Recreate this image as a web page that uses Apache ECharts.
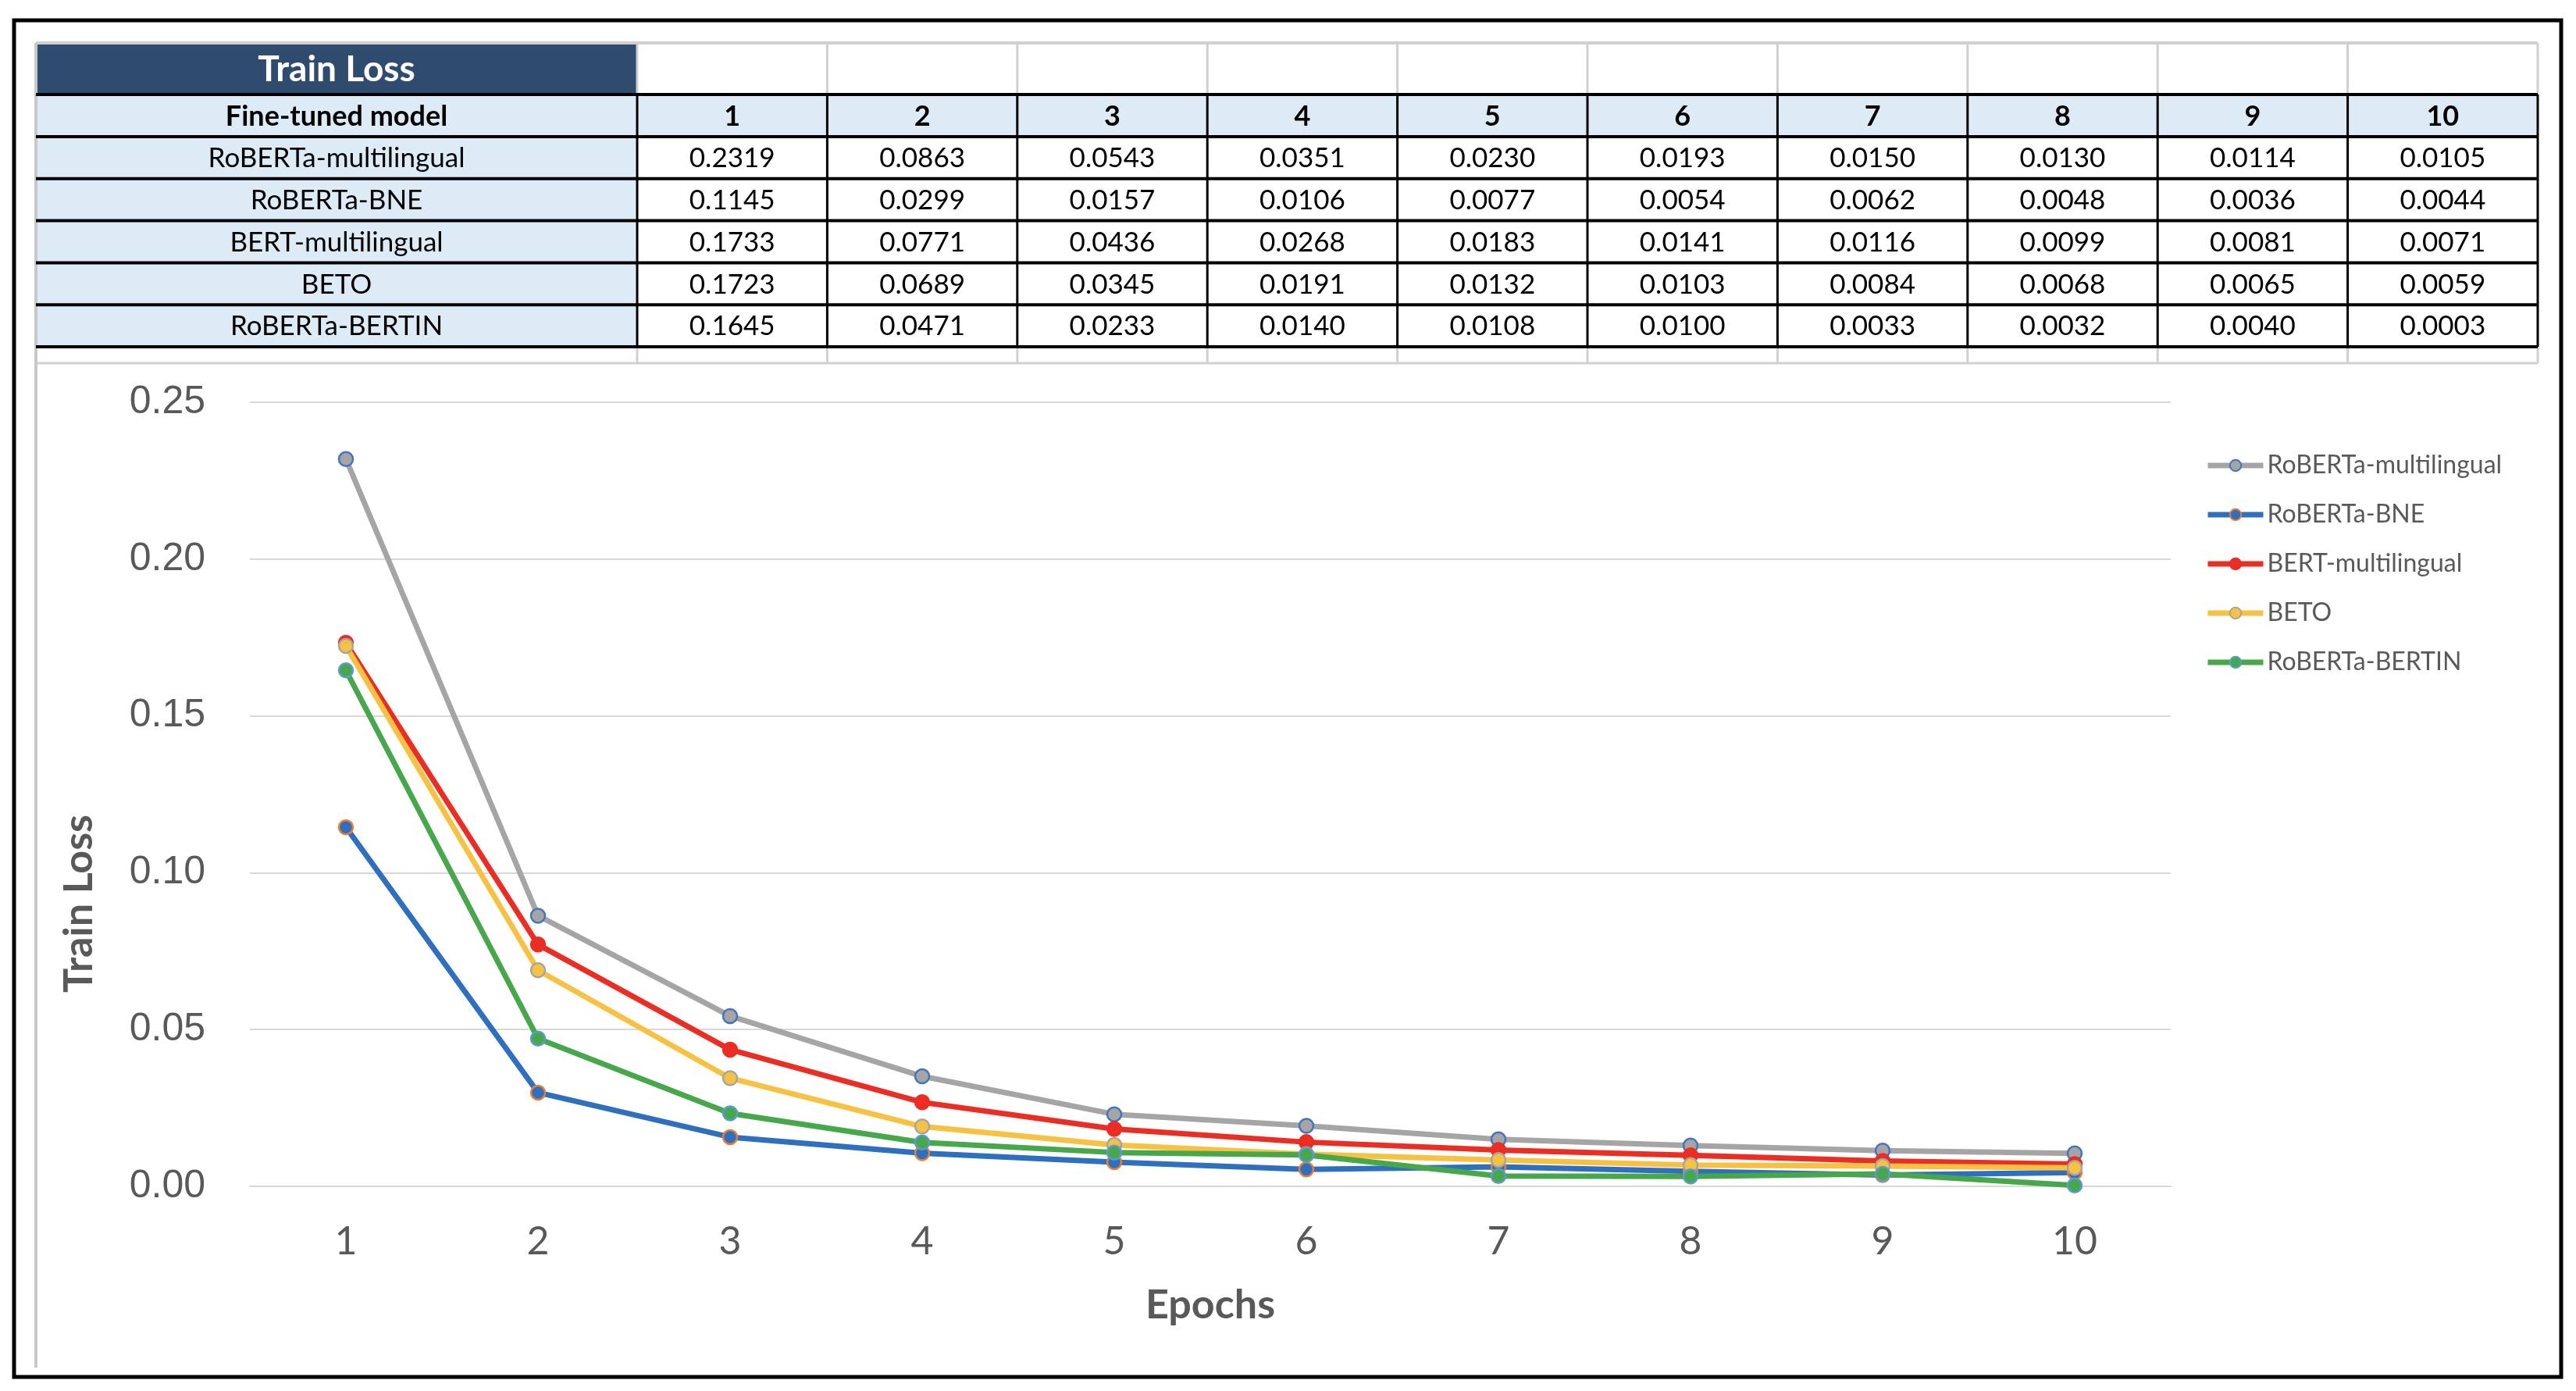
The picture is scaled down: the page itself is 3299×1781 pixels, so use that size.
<!DOCTYPE html>
<html>
<head>
<meta charset="utf-8">
<script src="https://cdn.jsdelivr.net/npm/echarts@6/dist/echarts.min.js"></script>
<style>
html,body{margin:0;padding:0;background:#fff;}
#chart{width:3299px;height:1781px;}
</style>
</head>
<body>
<div id="chart"></div>
<script>
// ---- data ----
const epochs = ['1','2','3','4','5','6','7','8','9','10'];
const modelNames = ['RoBERTa-multilingual','RoBERTa-BNE','BERT-multilingual','BETO','RoBERTa-BERTIN'];
const robertaMultilingual = [0.2319,0.0863,0.0543,0.0351,0.0230,0.0193,0.0150,0.0130,0.0114,0.0105];
const robertaBNE          = [0.1145,0.0299,0.0157,0.0106,0.0077,0.0054,0.0062,0.0048,0.0036,0.0044];
const bertMultilingual    = [0.1733,0.0771,0.0436,0.0268,0.0183,0.0141,0.0116,0.0099,0.0081,0.0071];
const beto                = [0.1723,0.0689,0.0345,0.0191,0.0132,0.0103,0.0084,0.0068,0.0065,0.0059];
const robertaBertin       = [0.1645,0.0471,0.0233,0.0140,0.0108,0.0100,0.0033,0.0032,0.0040,0.0003];
const seriesValues = [robertaMultilingual, robertaBNE, bertMultilingual, beto, robertaBertin];
const tableTitle = 'Train Loss';
const headerLabel = 'Fine-tuned model';
const yTickLabels = ['0.00','0.05','0.10','0.15','0.20','0.25'];

// ---- styles ----
const lineColors   = ['#a5a5a5','#2e6fc0','#ec2d24','#f7c242','#47a84b'];
const markerBorder = ['#4472c4','#ed7d31','#ec2d24','#a5a5a5','#5b9bd5'];
const FONT = 'Lato';

// ---- table via graphic ----
const g = [];
const colX = [46, 816];
const colW = (3250 - 816) / 10;
for (let i = 1; i <= 10; i++) colX.push(816 + colW * i);
const rowY = [55, 121, 175];
const rowH = (444 - 175) / 5;
for (let i = 1; i <= 5; i++) rowY.push(175 + rowH * i);
rowY.push(465);
const NAVY = '#2f4b6e', LB = '#ddebf7', GRAY = '#d0d0d0';

function rect(x, y, w, h, fill) {
  g.push({type:'rect', shape:{x, y, width:w, height:h}, style:{fill}, silent:true});
}
function line(x1, y1, x2, y2, color, w) {
  g.push({type:'line', shape:{x1, y1, x2, y2}, style:{stroke:color, lineWidth:w}, silent:true, z:10});
}
function text(t, cx, cy, size, weight, color) {
  g.push({type:'text', x:cx, y:cy, style:{text:t, fontFamily:FONT, fontSize:size, fontWeight:weight,
    fill:color, align:'center', verticalAlign:'middle'}, silent:true, z:20});
}
// fills
for (let r = 0; r < 8; r++) {
  for (let c = 0; c < 11; c++) {
    let fill = '#ffffff';
    if (r === 0 && c === 0) fill = NAVY;
    else if (r === 1) fill = LB;
    else if (r >= 2 && r <= 6 && c === 0) fill = LB;
    rect(colX[c], rowY[r], colX[c+1] - colX[c], rowY[r+1] - rowY[r], fill);
  }
}
// gray borders (title row + blank row + outer left/top)
line(colX[0], rowY[0], colX[11], rowY[0], GRAY, 4);
line(colX[0], rowY[8], colX[11], rowY[8], GRAY, 3);
for (let c = 0; c < 12; c++) {
  line(colX[c], rowY[0], colX[c], rowY[1], GRAY, 3);
  line(colX[c], rowY[7], colX[c], rowY[8], GRAY, 3);
}
// left gray chart border
line(46, rowY[0], 46, 1751, '#c8c8c8', 4);
// black grid in rows 1..6
for (let r = 1; r <= 7; r++) line(colX[0], rowY[r], colX[11], rowY[r], '#000', 4);
for (let c = 1; c < 12; c++) line(colX[c], rowY[1], colX[c], rowY[7], '#000', 3);
// texts
const cxs = [];
for (let c = 0; c < 11; c++) cxs.push((colX[c] + colX[c+1]) / 2);
const cys = [];
for (let r = 0; r < 8; r++) cys.push((rowY[r] + rowY[r+1]) / 2 + 1);
text(tableTitle, cxs[0], cys[0], 46, 'bold', '#ffffff');
text(headerLabel, cxs[0], cys[1], 36, 'bold', '#000');
epochs.forEach((e, i) => text(e, cxs[i+1], cys[1], 36, 'bold', '#000'));
modelNames.forEach((m, r) => {
  text(m, cxs[0], cys[r+2], 35, 'normal', '#000');
  seriesValues[r].forEach((v, i) => text(v.toFixed(4), cxs[i+1], cys[r+2], 35, 'normal', '#000'));
});
// outer black frame
g.push({type:'rect', shape:{x:18, y:26, width:3262, height:1737}, style:{fill:null, stroke:'#000', lineWidth:5}, silent:true, z:30});

// ---- chart ----
const chart = echarts.init(document.getElementById('chart'), null, {renderer:'canvas'});
const option = {
  animation: false,
  backgroundColor: '#ffffff',
  graphic: g,
  grid: {left: 320, right: 519, top: 515, bottom: 262},
  legend: {
    orient: 'vertical', left: 2819, top: 575,
    itemWidth: 71, itemHeight: 18, itemGap: 31,
    lineStyle: {width: 7},
    textStyle: {fontFamily: FONT, fontSize: 32, color: '#595959', lineHeight: 32},
    data: modelNames
  },
  xAxis: {
    type: 'category', data: epochs, boundaryGap: true,
    name: 'Epochs', nameLocation: 'middle', nameGap: 126,
    nameTextStyle: {fontFamily: FONT, fontSize: 52, fontWeight: 'bold', color: '#595959'},
    axisLine: {lineStyle: {color: '#d9d9d9', width: 2}},
    axisTick: {alignWithLabel: true, length: 15, lineStyle: {color: '#d9d9d9', width: 2}},
    axisLabel: {fontFamily: FONT, fontSize: 50, color: '#595959', margin: 46}
  },
  yAxis: {
    type: 'value', min: 0, max: 0.25, interval: 0.05,
    name: 'Train Loss', nameLocation: 'middle', nameGap: 193, nameRotate: 90,
    nameTextStyle: {fontFamily: FONT, fontSize: 52, fontWeight: 'bold', color: '#595959', padding: [0, 280, 0, 0]},
    axisLine: {show: false}, axisTick: {show: false},
    splitLine: {lineStyle: {color: '#d9d9d9', width: 2}},
    axisLabel: {fontFamily: 'Liberation Sans', fontSize: 50, color: '#595959', margin: 57,
      formatter: (v) => yTickLabels[Math.round(v / 0.05)]}
  },
  series: modelNames.map((name, i) => ({
    name, type: 'line', data: seriesValues[i],
    symbol: 'circle', symbolSize: 18, showAllSymbol: true,
    lineStyle: {color: lineColors[i], width: 7},
    itemStyle: {color: lineColors[i], borderColor: markerBorder[i], borderWidth: 2.5}
  }))
};
chart.setOption(option);
</script>
</body>
</html>
